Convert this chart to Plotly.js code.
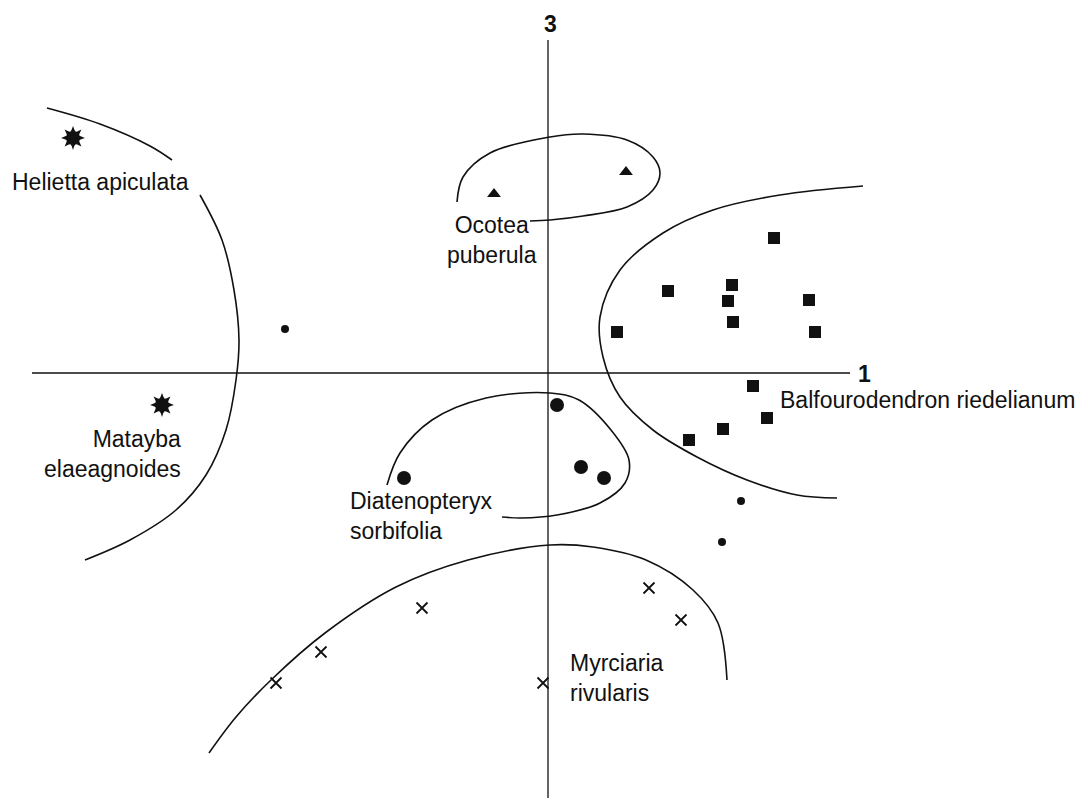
<!DOCTYPE html>
<html>
<head>
<meta charset="utf-8">
<script src="https://cdn.plot.ly/plotly-3.0.1.min.js"></script>
<style>
  body { margin: 0; background: #fff; }
  #plot { width: 1088px; height: 803px; }
</style>
</head>
<body>
<div id="plot"></div>
<script>
// Ordination scores (axis 1 vs axis 3)
let helieX = [-4.75], helieY = [2.35]
let mataybaX = [-3.86], mataybaY = [-0.32]
let ocoteaX = [-0.54, 0.78]
let ocoteaY = [1.79, 2.01]
let balfX = [2.26, 1.20, 1.84, 1.80, 1.85, 2.61, 2.67, 0.69, 2.05, 2.19, 1.75, 1.41]
let balfY = [1.35, 0.82, 0.88, 0.72, 0.51, 0.73, 0.41, 0.41, -0.13, -0.45, -0.56, -0.67]
let diatX = [0.09, -1.44, 0.33, 0.56]
let diatY = [-0.32, -1.05, -0.94, -1.05]
let myrcX = [-2.72, -2.27, -1.26, -0.05, 1.01, 1.33]
let myrcY = [-3.10, -2.79, -2.35, -3.10, -2.15, -2.47]
let otherX = [-2.63, 1.93, 1.74]
let otherY = [0.44, -1.28, -1.69]

// hand drawn group envelopes
let env1X = [-5.01, -4.48, -3.98, -3.76, null, -3.48, -3.26, -3.14, -3.09, -3.12, -3.22, -3.42, -3.72, -4.18, -4.63]
let env1Y = [2.65, 2.49, 2.27, 2.13, null, 1.78, 1.33, 0.83, 0.33, -0.07, -0.57, -1.02, -1.37, -1.67, -1.87]
let env2X = [-0.91, -0.85, -0.58, 0.02, 0.35, 0.79, 1.05, 1.12, 1.05, 0.79, 0.35, 0.02, -0.18]
let env2Y = [1.71, 1.96, 2.20, 2.36, 2.39, 2.33, 2.16, 2.00, 1.83, 1.66, 1.57, 1.53, 1.52]
let env3X = [3.15, 2.32, 1.65, 1.15, 0.72, 0.52, 0.55, 0.72, 1.05, 1.49, 1.99, 2.49, 2.89]
let env3Y = [1.87, 1.78, 1.63, 1.40, 1.03, 0.56, 0.16, -0.24, -0.57, -0.84, -1.07, -1.22, -1.25]
let env4X = [-1.61, -1.48, -1.16, -0.62, 0.02, 0.31, 0.63, 0.81, 0.77, 0.52, 0.09, -0.27, -0.46]
let env4Y = [-1.12, -0.80, -0.47, -0.25, -0.20, -0.27, -0.57, -0.87, -1.10, -1.30, -1.42, -1.45, -1.44]
let env5X = [-3.39, -3.12, -2.77, -2.23, -1.52, -0.80, 0.02, 0.45, 0.98, 1.45, 1.70, 1.79]
let env5Y = [-3.80, -3.44, -3.07, -2.60, -2.14, -1.87, -1.72, -1.74, -1.87, -2.17, -2.50, -3.07]

// axis extents
let axis1X = [-5.16, 3.02], axis1Y = [0, 0]
let axis3X = [0, 0], axis3Y = [3.33, -4.25]

let labels = ["Helietta apiculata", "Matayba<br>elaeagnoides", "Ocotea<br>puberula",
              "Balfourodendron riedelianum", "Diatenopteryx<br>sorbifolia", "Myrciaria<br>rivularis"]
let labelX = [-5.38, -3.65, -0.56, 2.30, -2.00, 0.20]
let labelY = [1.91, -0.81, 1.33, -0.27, -1.43, -3.05]
let labelSide = ["left", "right", "center", "left", "left", "left"]

let font = "Liberation Sans, Arial, sans-serif"
let ink = "#111"

function curve(x, y) {
    return {x: x, y: y, mode: "lines", type: "scatter", connectgaps: false,
            line: {color: ink, width: 1.6, shape: "spline", smoothing: 1}, hoverinfo: "skip"}
}
function pts(x, y, marker) {
    return {x: x, y: y, mode: "markers", type: "scatter", marker: marker, hoverinfo: "skip"}
}

let data = [
    {x: axis1X, y: axis1Y, mode: "lines", line: {color: ink, width: 1.3}},
    {x: axis3X, y: axis3Y, mode: "lines", line: {color: ink, width: 1.3}},
    curve(env1X, env1Y), curve(env2X, env2Y), curve(env3X, env3Y),
    curve(env4X, env4Y), curve(env5X, env5Y),
    pts(helieX.concat(mataybaX), helieY.concat(mataybaY), {symbol: "star-diamond", size: 17, color: ink}),
    pts(helieX.concat(mataybaX), helieY.concat(mataybaY), {symbol: "star-diamond", angle: 45, size: 17, color: ink}),
    pts(helieX.concat(mataybaX), helieY.concat(mataybaY), {symbol: "circle", size: 8, color: ink}),
    pts(ocoteaX, ocoteaY, {symbol: "triangle-up", size: 12, color: ink}),
    pts(balfX, balfY, {symbol: "square", size: 12, color: ink}),
    pts(diatX, diatY, {symbol: "circle", size: 14, color: ink}),
    pts(myrcX, myrcY, {symbol: "x-thin-open", size: 11, color: ink, line: {color: ink, width: 1.8}}),
    pts(otherX, otherY, {symbol: "circle", size: 8, color: ink})
]

let annotations = labels.map((t, i) => ({
    x: labelX[i], y: labelY[i], text: t, showarrow: false,
    xanchor: labelSide[i], yanchor: "middle", align: labelSide[i],
    font: {family: font, size: 23, color: ink}
}))
annotations.push({x: 0.02, y: 3.49, text: "<b>3</b>", showarrow: false,
    xanchor: "center", yanchor: "middle", font: {family: font, size: 23, color: ink}})
annotations.push({x: 3.08, y: -0.01, text: "<b>1</b>", showarrow: false,
    xanchor: "left", yanchor: "middle", font: {family: font, size: 23, color: ink}})

let layout = {
    width: 1088, height: 803,
    margin: {l: 0, r: 0, t: 0, b: 0},
    paper_bgcolor: "#fff", plot_bgcolor: "#fff",
    showlegend: false,
    xaxis: {range: [-5.48, 5.40], visible: false, fixedrange: true},
    yaxis: {range: [-4.30, 3.73], visible: false, fixedrange: true},
    annotations: annotations
}

Plotly.newPlot("plot", data, layout, {displayModeBar: false, staticPlot: true});
</script>
</body>
</html>
